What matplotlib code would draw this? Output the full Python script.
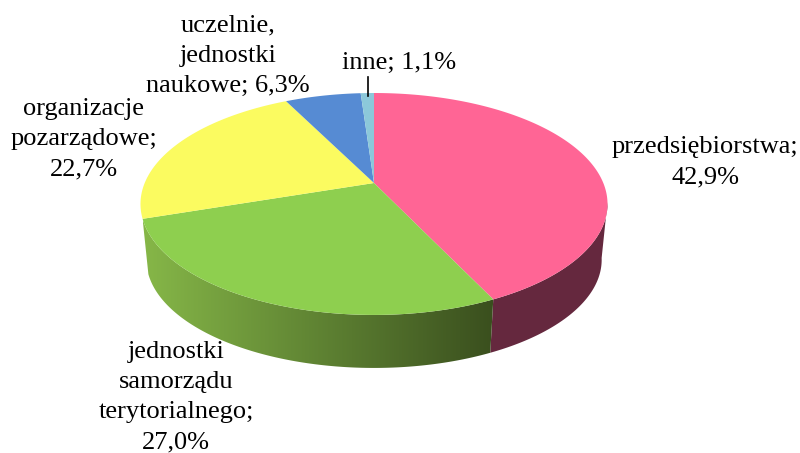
import numpy as np
import matplotlib
matplotlib.use('Agg')
import matplotlib.pyplot as plt
from matplotlib.patches import Polygon
from matplotlib.colors import LinearSegmentedColormap

labels = ['przedsiębiorstwa;\n42,9%', 'jednostki\nsamorządu\nterytorialnego;\n27,0%',
          'organizacje\npozarządowe;\n22,7%', 'uczelnie,\njednostki\nnaukowe; 6,3%', 'inne; 1,1%']
values = [42.9, 27.0, 22.7, 6.3, 1.1]
colors = ['#FF6595', '#8ECF4F', '#FBFB60', '#568BD3', '#8CC8DA']
label_x = [705, 176, 84, 228, 399]
label_y = [162, 397, 139, 56, 63]

# perspective of the tilted disc, in pixels
cx, cy = 374, 183
rx, ry, persp = 229.3, 107, 0.189
depth, shrink = 56.3, 0.975


def project(ang, scale=1.0, dy=0.0):
    # ang is clockwise from the top
    den = 1 + persp * np.cos(ang)
    return cx + scale * rx * np.sin(ang) / den, cy + dy + scale * (-ry) * np.cos(ang) / den


def side_poly(a0, a1):
    t = np.linspace(a0, a1, 200)
    x0, y0 = project(t)
    x1, y1 = project(t, shrink, depth)
    return np.r_[x0, x1[::-1]], np.r_[y0, y1[::-1]]


fig = plt.figure(figsize=(8, 4.53), dpi=100)
ax = fig.add_axes([0, 0, 1, 1])
ax.set_xlim(0, 800)
ax.set_ylim(453, 0)
ax.axis('off')

edges = np.radians(np.r_[0, np.cumsum(values)] / sum(values) * 360)

# side walls first, only the pink and green slices show one
# pink wall runs from the right edge of the disc round to the slice border
xs, ys = side_poly(np.radians(100), edges[1])
ax.fill(xs, ys, color='#65283E', lw=0, zorder=1)

xs, ys = side_poly(edges[1], edges[2])
green_side = LinearSegmentedColormap.from_list('g', ['#86B748', '#5F8333', '#3A4F1E'])
im = ax.imshow(np.linspace(0, 1, 256)[None, :], cmap=green_side, aspect='auto', zorder=2,
               extent=(xs.min(), xs.max(), ys.max(), ys.min()))
ax.set_xlim(0, 800)
ax.set_ylim(453, 0)
clip = Polygon(np.c_[xs, ys], transform=ax.transData, fc='none', ec='none')
ax.add_patch(clip)
im.set_clip_path(clip)

# top of the pie
for a0, a1, c in zip(edges[:-1], edges[1:], colors):
    t = np.linspace(a0, a1, 200)
    x, y = project(t)
    ax.fill(np.r_[cx, x], np.r_[cy, y], color=c, lw=0, zorder=3)

for s, x, y in zip(labels, label_x, label_y):
    ax.text(x, y, s, ha='center', va='center', family='Liberation Serif', fontsize=19,
            linespacing=1.48, color='black', zorder=5)

# leader of the small slice
ax.plot([368, 368], [77, 96], color='black', lw=1.2, zorder=4)

fig.savefig('out.png', dpi=100)
